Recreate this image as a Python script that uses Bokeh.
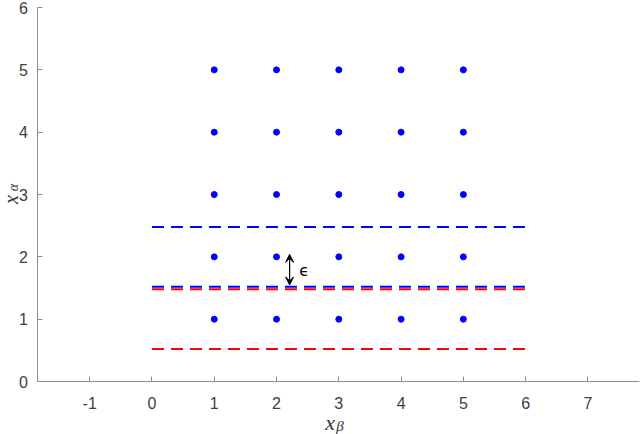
import math
from bokeh.plotting import figure
from bokeh.models import Range1d, Label, Arrow, VeeHead
from bokeh.embed import file_html
from bokeh.resources import INLINE

# ---- data ----
grid_x = [1, 2, 3, 4, 5]
grid_y = [1, 2, 3, 4, 5]
line_x = [0, 6]
blue_levels = [2.48, 1.52]
red_levels = [1.48, 0.52]
x_ticks = [-1, 0, 1, 2, 3, 4, 5, 6, 7]
y_ticks = [0, 1, 2, 3, 4, 5, 6]
x_axis_extent = (-1.83, 7.82)
y_axis_extent = (0, 6)
arrow_x = 2.21
arrow_y = [1.55, 2.04]
eps_xy = (2.444, 1.778)

pts_x = [gx for gy in grid_y for gx in grid_x]
pts_y = [gy for gy in grid_y for gx in grid_x]

p = figure(width=640, height=434,
           x_range=Range1d(-2.432, 7.844), y_range=Range1d(-0.850, 6.113),
           output_backend="svg", toolbar_location=None,
           min_border_left=0, min_border_right=0,
           min_border_top=0, min_border_bottom=0,
           background_fill_color="white", border_fill_color="white")
p.outline_line_color = None
p.grid.visible = False

for ax in (p.xaxis[0], p.yaxis[0]):
    ax.axis_line_color = "#8c8c8c"
    ax.axis_line_width = 1
    ax.major_tick_line_color = "#8c8c8c"
    ax.major_tick_in = 5
    ax.major_tick_out = 0
    ax.minor_tick_in = 0
    ax.minor_tick_out = 0
    ax.major_label_text_font = "Liberation Sans"
    ax.major_label_text_font_size = "16px"
    ax.major_label_text_color = "#404040"
p.xaxis.ticker = x_ticks
p.yaxis.ticker = y_ticks
p.xaxis.fixed_location = 0
p.yaxis.fixed_location = x_axis_extent[0]
p.xaxis.bounds = x_axis_extent
p.yaxis.bounds = y_axis_extent
p.xaxis.major_label_overrides = {-1: "-1"}
p.xaxis.major_label_standoff = 15
p.yaxis.major_label_standoff = 10

# dashed lines
for lv in blue_levels:
    p.line(line_x, [lv, lv], line_color="#0000ff", line_width=2, line_dash="12 7")
for lv in red_levels:
    p.line(line_x, [lv, lv], line_color="#ff0000", line_width=2, line_dash="12 7")

# points
p.scatter(pts_x, pts_y, size=6, fill_color="#0000ff", line_color="#0000ff")

# arrow
p.add_layout(Arrow(x_start=arrow_x, y_start=arrow_y[0], x_end=arrow_x, y_end=arrow_y[1],
                   line_color="black", line_width=1.2,
                   start=VeeHead(size=8, fill_color="black", line_color="black"),
                   end=VeeHead(size=8, fill_color="black", line_color="black")))
p.add_layout(Label(x=eps_xy[0], y=eps_xy[1], text="ϵ", text_font="DejaVu Sans",
                   text_font_size="16px", text_align="center", text_baseline="middle",
                   text_color="black"))

# axis labels (math style)
p.add_layout(Label(x=2.86, y=-0.657, text="x", text_font="Liberation Serif",
                   text_font_style="italic", text_font_size="22px",
                   text_align="center", text_baseline="alphabetic", text_color="#333333"))
p.add_layout(Label(x=3.02, y=-0.706, text="β", text_font="Liberation Serif",
                   text_font_style="italic", text_font_size="15px",
                   text_align="center", text_baseline="alphabetic", text_color="#333333"))

p.add_layout(Label(x=-2.263, y=2.920, text="x", text_font="Liberation Serif",
                   text_font_style="italic", text_font_size="20px", angle=math.pi / 2,
                   text_align="center", text_baseline="alphabetic", text_color="#333333"))
p.add_layout(Label(x=-2.218, y=3.11, text="α", text_font="Liberation Serif",
                   text_font_style="italic", text_font_size="14px", angle=math.pi / 2,
                   text_align="center", text_baseline="alphabetic", text_color="#333333"))

open("out.html", "w").write(file_html(p, INLINE))
